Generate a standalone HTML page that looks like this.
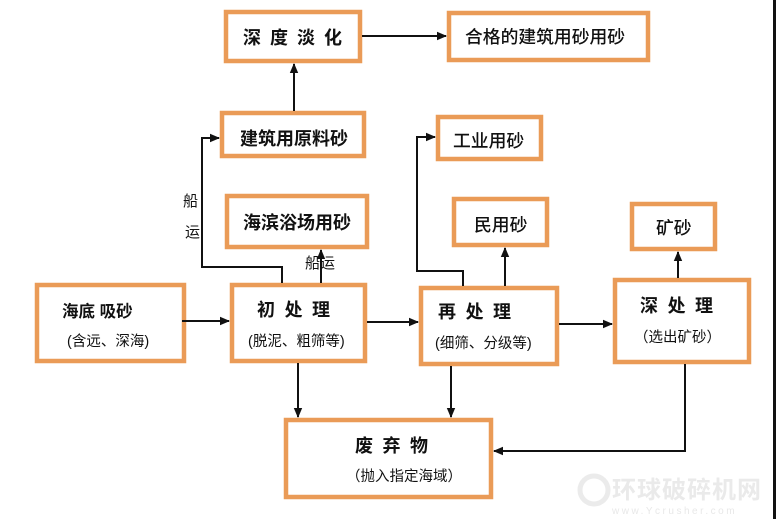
<!DOCTYPE html>
<html><head><meta charset="utf-8">
<style>
html,body{margin:0;padding:0;background:#fff;}
svg{display:block;}
text{font-family:"Liberation Sans","Noto Sans CJK SC",sans-serif;fill:#111;}
.b{font-weight:700;font-size:18px;}
.m{font-weight:500;font-size:17.8px;}
.s{font-weight:400;font-size:14.5px;}
.box{fill:#fff;stroke:#EA9B57;stroke-width:4.5;}
.ln{stroke:#111;stroke-width:2;fill:none;}
</style></head>
<body>
<svg width="776" height="519" viewBox="0 0 776 519" xmlns="http://www.w3.org/2000/svg">
<defs>
<marker id="ah" markerWidth="10" markerHeight="10" refX="9" refY="5" orient="auto" markerUnits="userSpaceOnUse">
<path d="M0,0.8 L10,5 L0,9.2 z" fill="#111"/>
</marker>
</defs>
<rect x="0" y="0" width="776" height="519" fill="#fff"/>
<rect x="773" y="0" width="3" height="519" fill="#111"/>

<!-- boxes -->
<rect class="box" x="226" y="12" width="134" height="49"/>
<rect class="box" x="449" y="13" width="199" height="47"/>
<rect class="box" x="222" y="113" width="142" height="43"/>
<rect class="box" x="227" y="196" width="140" height="51"/>
<rect class="box" x="438" y="117" width="103" height="42"/>
<rect class="box" x="454" y="199" width="93" height="46"/>
<rect class="box" x="632" y="204" width="83" height="45"/>
<rect class="box" x="37" y="285" width="147" height="76"/>
<rect class="box" x="232" y="285" width="133" height="76"/>
<rect class="box" x="421" y="288" width="136" height="76"/>
<rect class="box" x="615" y="280" width="134" height="82"/>
<rect class="box" x="286" y="420" width="205" height="77"/>

<!-- connectors -->
<line class="ln" x1="362" y1="36" x2="446" y2="36" marker-end="url(#ah)"/>
<line class="ln" x1="294" y1="111" x2="294" y2="64" marker-end="url(#ah)"/>
<polyline class="ln" points="282,283 282,267 202,267 202,138 219,138" marker-end="url(#ah)"/>
<line class="ln" x1="321" y1="283" x2="321" y2="250" marker-end="url(#ah)"/>
<line class="ln" x1="182" y1="321" x2="229" y2="321" marker-end="url(#ah)"/>
<line class="ln" x1="367" y1="322" x2="418" y2="322" marker-end="url(#ah)"/>
<polyline class="ln" points="463,286 463,271 417,271 417,137 435,137" marker-end="url(#ah)"/>
<line class="ln" x1="505" y1="286" x2="505" y2="248" marker-end="url(#ah)"/>
<line class="ln" x1="559" y1="324" x2="612" y2="324" marker-end="url(#ah)"/>
<line class="ln" x1="678" y1="278" x2="678" y2="252" marker-end="url(#ah)"/>
<line class="ln" x1="298" y1="363" x2="298" y2="417" marker-end="url(#ah)"/>
<line class="ln" x1="451" y1="366" x2="451" y2="417" marker-end="url(#ah)"/>
<polyline class="ln" points="685,364 685,451 494,451" marker-end="url(#ah)"/>

<!-- labels -->
<text class="b" x="243" y="44" style="letter-spacing:9px">深度淡化</text>
<text class="m" x="465" y="43">合格的建筑用砂用砂</text>
<text class="b" x="240" y="145">建筑用原料砂</text>
<text class="b" x="243" y="229">海滨浴场用砂</text>
<text class="m" x="453" y="147">工业用砂</text>
<text class="m" x="474" y="231">民用砂</text>
<text class="m" x="656" y="234">矿砂</text>

<text class="b" x="62" y="317" style="font-size:16.5px">海底 吸砂</text>
<text class="s" x="67" y="346">(含远、深海)</text>

<text class="b" x="257" y="316" style="letter-spacing:9.5px">初处理</text>
<text class="s" x="248" y="346">(脱泥、粗筛等)</text>

<text class="b" x="438" y="318" style="letter-spacing:9.5px">再处理</text>
<text class="s" x="435" y="348">(细筛、分级等)</text>

<text class="b" x="640" y="312" style="letter-spacing:9.5px">深处理</text>
<text class="s" x="634" y="342">（选出矿砂）</text>

<text class="b" x="355" y="452" style="letter-spacing:9.5px">废弃物</text>
<text class="s" x="346" y="481">（抛入指定海域）</text>

<text x="183" y="206" style="font-size:15px">船</text>
<text x="185" y="237" style="font-size:15px">运</text>
<text x="305" y="268" style="font-size:15px">船运</text>

<!-- watermark -->
<circle cx="594" cy="490" r="14" fill="none" stroke="#ebebeb" stroke-width="5"/>
<text x="612" y="498" style="font-size:24px;fill:#eaeaea;font-weight:700;letter-spacing:1px">环球破碎机网</text>
<text x="612" y="514" style="font-size:10px;fill:#e8e8e8;letter-spacing:2.5px">www.Ycrusher.com</text>
</svg>
</body></html>
